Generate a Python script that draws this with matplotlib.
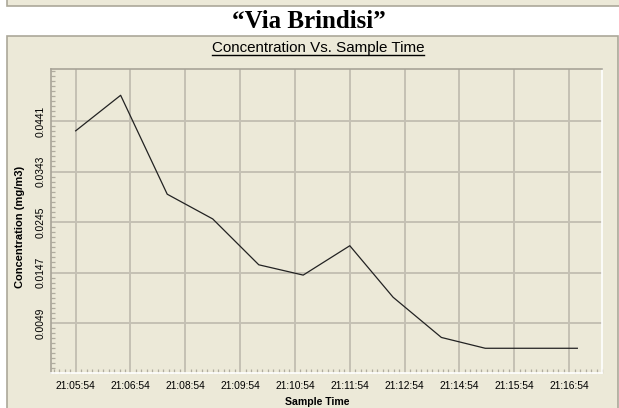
import numpy as np
import matplotlib.pyplot as plt
from matplotlib.patches import Rectangle
from matplotlib.ticker import MultipleLocator, FixedLocator

# sample times (minutes after 21:05:54) and concentrations
sample_min = [0, 0.82, 1.67, 2.50, 3.34, 4.15, 5.0, 5.79, 6.67, 7.47, 8.31, 9.15]
concentration = [0.0422, 0.0491, 0.0299, 0.0251, 0.0162, 0.0142,
                 0.0199, 0.0099, 0.0021, 0.0000, 0.0000, 0.0000]

x_ticks = [0, 1, 2, 3, 4, 5, 6, 7, 8, 9]
x_labels = ['21:05:54', '21:06:54', '21:08:54', '21:09:54', '21:10:54',
            '21:11:54', '21:12:54', '21:14:54', '21:15:54', '21:16:54']
y_ticks = [0.0049, 0.0147, 0.0245, 0.0343, 0.0441]
y_labels = ['0.0049', '0.0147', '0.0245', '0.0343', '0.0441']

beige = '#ECE9D8'
border = '#ACA899'
grid = '#C4C0B4'

W, H = 619, 408
fig = plt.figure(figsize=(W / 100, H / 100), dpi=100)
fig.patch.set_facecolor('white')

def px_rect(x0, y0, x1, y1, **kw):
    # rectangle in pixel coords, y measured from top
    r = Rectangle((x0 / W, 1 - y1 / H), (x1 - x0) / W, (y1 - y0) / H,
                  transform=fig.transFigure, zorder=-5, **kw)
    fig.patches.append(r)

# top strip and main panel
px_rect(6.5, -5, 625, 5.5, facecolor=beige, edgecolor=border, linewidth=1.2)
px_rect(6.5, 36.5, 618, 420, facecolor=beige, edgecolor=border, linewidth=1.2)

fig.text(309 / W, 1 - 22 / H, '\u201cVia Brindisi\u201d', ha='center', va='center',
         family='Liberation Serif', weight='bold', fontsize=18)
fig.text(318 / W, 1 - 48 / H, 'Concentration Vs. Sample Time', ha='center', va='center',
         family='Liberation Sans', fontsize=10.9)
# underline under the title
fig.add_artist(plt.Line2D([212 / W, 424 / W], [1 - 55 / H, 1 - 55 / H],
                          transform=fig.transFigure, color='black', linewidth=1.0))

ax = fig.add_axes([51 / W, 1 - 373 / H, 551 / W, 304 / H])
ax.set_facecolor(beige)
ax.plot(sample_min, concentration, color='#222222', linewidth=0.9)

ax.set_xlim(-0.45, 9.60)
ax.set_ylim(-0.0048, 0.0542)

ax.xaxis.set_major_locator(FixedLocator(x_ticks))
ax.set_xticklabels(x_labels)
ax.xaxis.set_minor_locator(MultipleLocator(0.1))
ax.yaxis.set_major_locator(FixedLocator(y_ticks))
ax.set_yticklabels(y_labels, rotation=90, va='center')
ax.yaxis.set_minor_locator(MultipleLocator(0.00098))

ax.tick_params(which='major', length=0, labelsize=7.4, pad=6)
ax.tick_params(which='minor', direction='in', length=3, color='#B0AC9F', width=0.9)
ax.tick_params(axis='y', which='major', pad=4)
for lab in ax.get_xticklabels() + ax.get_yticklabels():
    lab.set_family('Liberation Sans')

ax.grid(True, which='major', color=grid, linewidth=1.4)
ax.set_axisbelow(True)

ax.spines['left'].set_color('#A8A498')
ax.spines['top'].set_color('#A8A498')
ax.spines['right'].set_color('white')
ax.spines['bottom'].set_color('white')
for s in ax.spines.values():
    s.set_linewidth(1.2)

ax.set_xlabel('Sample Time', family='Liberation Sans', weight='bold', fontsize=7.6)
ax.set_ylabel('Concentration (mg/m3)', family='Liberation Sans', weight='bold', fontsize=8)
ax.xaxis.set_label_coords(0.483, -0.095)
ax.yaxis.set_label_coords(-0.056, 0.48)
ax.xaxis.label.set_va('center')
ax.yaxis.label.set_va('center')

fig.savefig('out.png', dpi=100, facecolor=fig.get_facecolor())
